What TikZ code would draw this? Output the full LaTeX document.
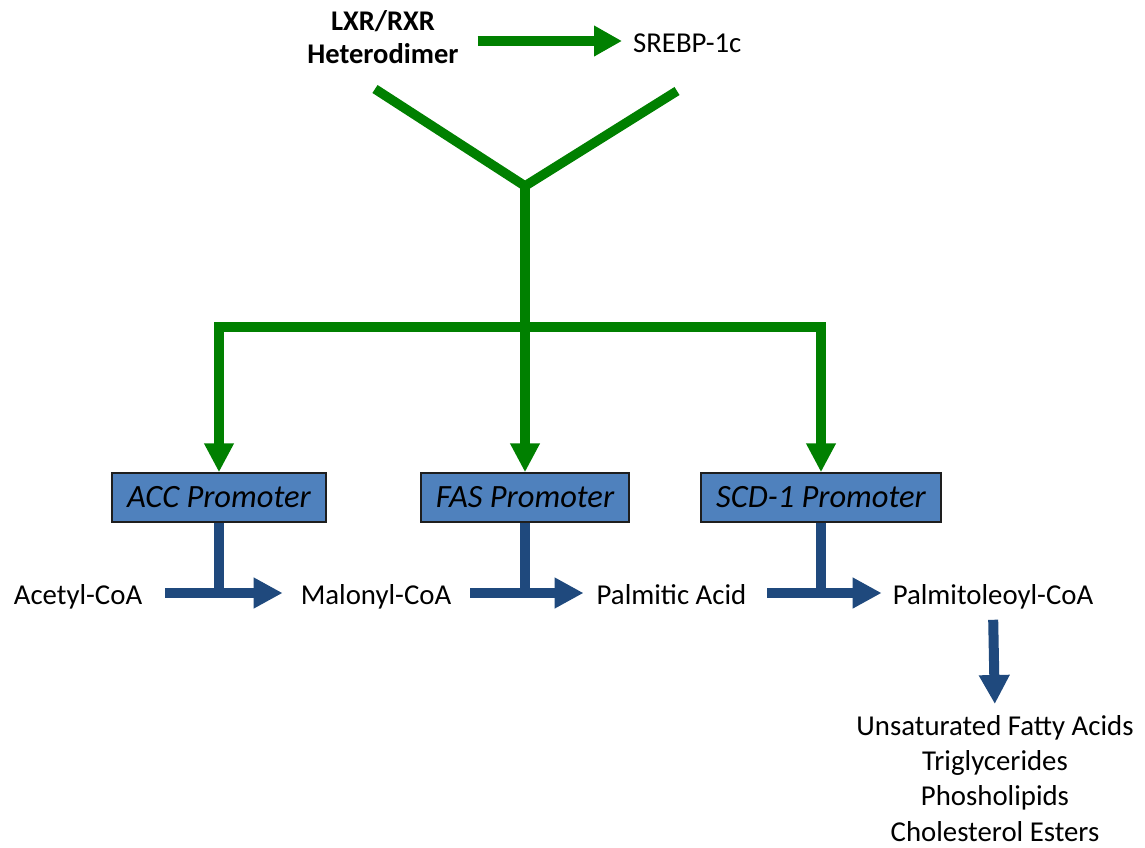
\documentclass[tikz,border=0pt]{standalone}
\usepackage{fontspec}
\setmainfont{Carlito}
\usetikzlibrary{arrows.meta}

\definecolor{lxrgreen}{RGB}{0,128,0}
\definecolor{pathblue}{RGB}{31,73,125}
\definecolor{boxblue}{RGB}{79,129,189}
\definecolor{boxedge}{RGB}{30,30,30}

\tikzset{every picture/.style={line width=0.75pt}}
\tikzset{
  txt/.style={inner sep=0.75pt, font=\fontsize{28.8}{35.3}\selectfont},
  promoter/.style={draw=boxedge, fill=boxblue, line width=1.5pt, minimum height=49pt,
    inner xsep=15pt, font=\fontsize{32.5}{38}\selectfont\itshape},
  greenline/.style={draw=lxrgreen, line width=9.5pt},
  greenhead/.tip={Triangle[length=29pt,width=28pt]},
  bluehead/.tip={Triangle[length=29pt,width=29pt]},
  blueline/.style={draw=pathblue, line width=10pt},
}

\begin{document}
\begin{tikzpicture}[x=1pt,y=1pt,yscale=-1]
\useasboundingbox (0,0) rectangle (1145,847);

% Text Node
\node [txt, align=center, font=\fontsize{28.5}{33}\selectfont\bfseries] (lxr) at (383,37) {LXR/RXR\\Heterodimer};
% Text Node
\node [txt, anchor=base west] (srebp) at (632,52) {SREBP-1c};

% Promoter boxes
\node [promoter] (acc) at (219,497.5) {ACC Promoter};
\node [promoter] (fas) at (525,497.5) {FAS Promoter};
\node [promoter] (scd) at (821,497.5) {SCD-1 Promoter};

% Text Node
\node [txt, anchor=base] (acetyl) at (78,604) {Acetyl-CoA};
% Text Node
\node [txt, anchor=base] (malonyl) at (376,604) {Malonyl-CoA};
% Text Node
\node [txt, anchor=base] (palmitic) at (671.5,604) {Palmitic Acid};
% Text Node
\node [txt, anchor=base] (palmitoleoyl) at (993,604) {Palmitoleoyl-CoA};
% Text Node
\node [txt, align=center, anchor=north] (lipids) at (995,714) {Unsaturated Fatty Acids\\Triglycerides\\Phosholipids\\Cholesterol Esters};

\coordinate (armL) at (375,89);
\coordinate (armR) at (677,91);
\coordinate (fork) at (525,186);
\coordinate (split) at (525,327);
\coordinate (toprow) at (0,41);
\coordinate (row) at (0,593);

%Straight Lines
\draw [greenline, -{Triangle[length=28pt,width=29pt]}, shorten <=18pt, shorten >=10pt] (lxr.east |- toprow) -- (srebp.west |- toprow);
%Straight Lines
\draw [greenline] (armL) -- (fork) -- (armR);
%Straight Lines
\draw [greenline, -greenhead] (fork) -- (fork |- fas.north);
%Straight Lines
\draw [greenline, greenhead-greenhead] (acc.north) |- (split) -| (scd.north);

%Straight Lines
\draw [blueline] (acc.south) -- (acc.south |- row);
\draw [blueline, -bluehead, shorten <=22pt, shorten >=17pt] (acetyl.east |- row) -- (malonyl.west |- row);
%Straight Lines
\draw [blueline] (fas.south) -- (fas.south |- row);
\draw [blueline, -bluehead, shorten <=18pt, shorten >=12pt] (malonyl.east |- row) -- (palmitic.west |- row);
%Straight Lines
\draw [blueline] (scd.south) -- (scd.south |- row);
\draw [blueline, -bluehead, shorten <=20pt, shorten >=10pt] (palmitic.east |- row) -- (palmitoleoyl.west |- row);
%Straight Lines
\draw [blueline, -bluehead, shorten <=10pt, shorten >=10pt] (palmitoleoyl.south) -- (lipids.north);

\end{tikzpicture}
\end{document}
